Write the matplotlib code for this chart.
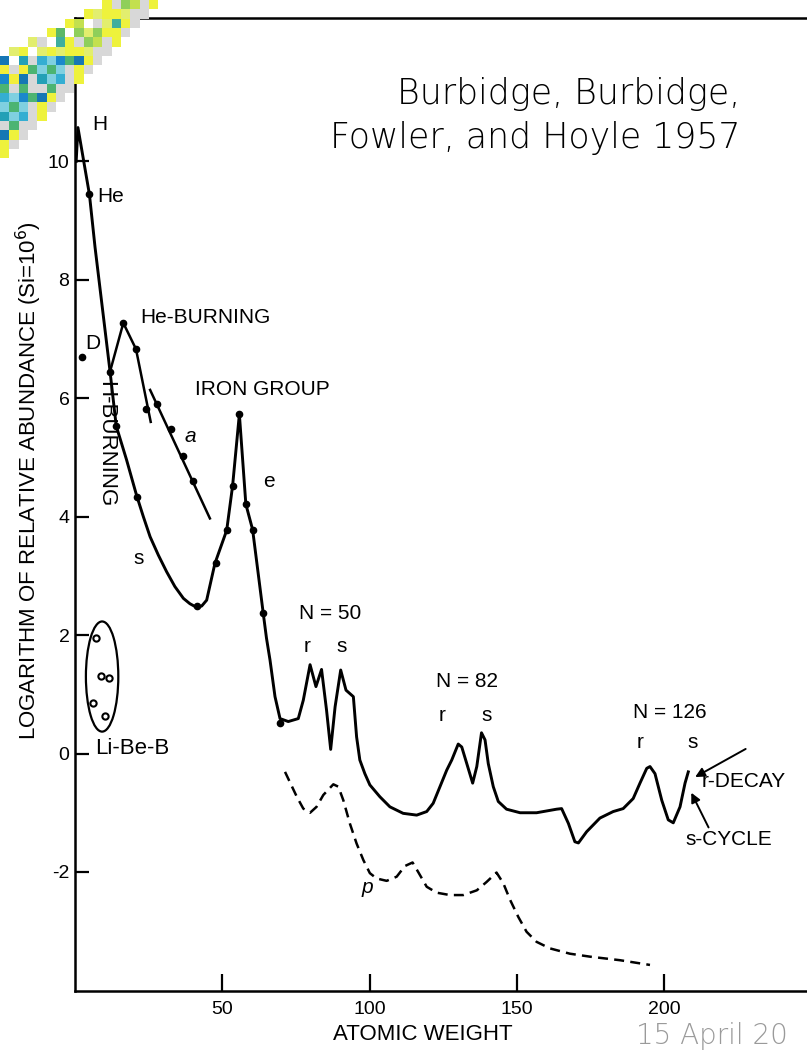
import matplotlib.pyplot as plt
from matplotlib.patches import Ellipse, Rectangle

plt.rcParams['font.family'] = ['Liberation Sans', 'DejaVu Sans']

# main solid curve: atomic weight vs log relative abundance (Si = 1e6)
main_a = [0.4, 1.0, 4.9, 6.8, 11.9, 14.0, 17.5, 20.9, 23.2, 25.5, 28.3, 31.1, 33.9,
          36.8, 39.0, 41.2, 43.0, 44.7, 47.5, 51.5, 53.5, 55.8, 58.0, 60.3, 63.9,
          65.0, 66.2, 67.9, 69.6, 72.4, 75.8, 77.5, 79.8, 81.8, 83.7, 85.4, 86.8,
          88.3, 90.2, 92.0, 94.5, 95.6, 96.7, 98.4, 100.1, 103.5, 106.9, 111.4,
          116.0, 119.4, 121.6, 123.9, 126.2, 127.9, 130.1, 131.3, 133.0, 135.0,
          136.4, 138.0, 139.2, 140.3, 142.0, 143.7, 146.5, 151.1, 156.7, 163.5,
          165.2, 167.5, 169.7, 170.9, 173.7, 178.2, 182.7, 186.1, 189.5, 191.8,
          194.1, 195.2, 196.9, 199.2, 201.4, 203.1, 205.4, 207.1, 208.2]
main_l = [10.0, 10.57, 9.44, 8.55, 6.45, 5.53, 4.96, 4.36, 4.0, 3.66, 3.35, 3.07, 2.82,
          2.62, 2.53, 2.47, 2.49, 2.59, 3.21, 3.77, 4.52, 5.73, 4.21, 3.78, 2.37,
          1.95, 1.58, 0.96, 0.59, 0.54, 0.59, 0.9, 1.5, 1.13, 1.42, 0.73, 0.07,
          0.79, 1.41, 1.07, 0.96, 0.28, -0.11, -0.34, -0.53, -0.73, -0.9, -1.01,
          -1.04, -0.98, -0.84, -0.56, -0.28, -0.11, 0.16, 0.11, -0.17, -0.5,
          -0.22, 0.35, 0.23, -0.17, -0.56, -0.81, -0.94, -1.0, -1.0, -0.94,
          -0.93, -1.18, -1.49, -1.51, -1.32, -1.09, -0.98, -0.93, -0.76, -0.5,
          -0.25, -0.22, -0.34, -0.79, -1.12, -1.17, -0.9, -0.5, -0.31]

# measured points on the H-burning / s / e curve
dot_a = [4.9, 11.9, 14.0, 20.9, 41.3, 47.7, 51.5, 53.6, 55.8, 58.1, 60.4, 63.9, 69.6]
dot_l = [9.44, 6.45, 5.53, 4.34, 2.49, 3.21, 3.77, 4.52, 5.73, 4.21, 3.78, 2.37, 0.51]

# He-burning branch
he_a = [11.9, 16.4, 20.7, 25.7]
he_l = [6.45, 7.27, 6.83, 5.6]
he_dot_a = [16.4, 20.7, 24.1]
he_dot_l = [7.27, 6.83, 5.81]

# alpha-process line
alpha_a = [25.5, 45.8]
alpha_l = [6.14, 3.97]
alpha_dot_a = [27.9, 32.5, 36.6, 40.2]
alpha_dot_l = [5.9, 5.48, 5.03, 4.61]

# deuterium
d_a, d_l = [2.3], [6.7]

# Li-Be-B points
libeb_a = [7.1, 8.8, 11.6, 6.2, 10.2]
libeb_l = [1.95, 1.31, 1.27, 0.86, 0.63]

# p-process (dashed)
p_a = [71.3, 75.3, 77.5, 79.8, 82.0, 84.3, 87.7, 89.4, 91.1, 93.3, 95.6, 97.9, 100.1,
       102.4, 105.8, 109.2, 112.0, 114.6, 116.5, 119.4, 122.8, 127.3, 131.8, 136.4,
       139.7, 143.1, 145.4, 147.7, 150.5, 153.3, 156.7, 161.2, 168.0, 174.8, 185.0,
       195.2]
p_l = [-0.31, -0.73, -0.93, -1.0, -0.9, -0.7, -0.52, -0.56, -0.79, -1.18, -1.52, -1.8,
       -2.02, -2.11, -2.15, -2.08, -1.9, -1.84, -2.0, -2.25, -2.35, -2.39, -2.39,
       -2.31, -2.17, -2.01, -2.19, -2.47, -2.76, -3.01, -3.18, -3.29, -3.38, -3.43,
       -3.49, -3.57]

x_ticks = [50, 100, 150, 200]
x_tick_labels = ['50', '100', '150', '200']
y_ticks = [-2, 0, 2, 4, 6, 8, 10]
y_tick_labels = ['-2', '0', '2', '4', '6', '8', '10']

fig = plt.figure(figsize=(8.07, 10.55), dpi=100)
ax = fig.add_axes([75 / 807, 64 / 1055, 737 / 807, 973 / 1055])
ax.set_xlim(0, 250.2)
ax.set_ylim(-4.01, 12.42)

ax.plot(main_a, main_l, color='black', lw=2.1, solid_joinstyle='round')
ax.plot(dot_a, dot_l, 'o', color='black', ms=4.5)
ax.plot(he_a, he_l, color='black', lw=1.8)
ax.plot(he_dot_a, he_dot_l, 'o', color='black', ms=4.5)
ax.plot(alpha_a, alpha_l, color='black', lw=1.8)
ax.plot(alpha_dot_a, alpha_dot_l, 'o', color='black', ms=4.5)
ax.plot(d_a, d_l, 'o', color='black', ms=4.5)
ax.plot(libeb_a, libeb_l, 'o', ms=4.5, mfc='white', mec='black', mew=1.5)
ax.add_patch(Ellipse((9.2, 1.3), 11, 1.86, fill=False, lw=1.6, ec='black'))
ax.plot(p_a, p_l, color='black', lw=1.8, linestyle=(0, (4, 2.5)))

for s in ['left', 'top', 'bottom', 'right']:
    ax.spines[s].set_linewidth(1.8)
ax.set_xticks(x_ticks)
ax.set_xticklabels(x_tick_labels)
ax.set_yticks(y_ticks)
ax.set_yticklabels(y_tick_labels)
ax.tick_params(axis='x', direction='in', length=12, width=1.6, pad=7, labelsize=14)
ax.tick_params(axis='y', direction='in', length=10, width=1.6, pad=4, labelsize=14)

lab = dict(fontsize=15, color='black')
ax.text(5.8, 10.63, 'H', ha='left', va='center', **lab)
ax.text(7.5, 9.4, 'He', ha='left', va='center', **lab)
ax.text(3.4, 6.93, 'D', ha='left', va='center', **lab)
ax.text(22.1, 7.36, 'He-BURNING', ha='left', va='center', **lab)
ax.text(40.7, 6.14, 'IRON GROUP', ha='left', va='center', **lab)
ax.text(10.4, 5.23, 'H-BURNING', ha='center', va='center', rotation=270, fontsize=16)
ax.text(39.0, 5.35, 'a', ha='center', va='center', style='italic', **lab)
ax.text(65.9, 4.59, 'e', ha='center', va='center', **lab)
ax.text(21.7, 3.3, 's', ha='center', va='center', **lab)
ax.text(86.6, 2.37, 'N = 50', ha='center', va='center', **lab)
ax.text(78.8, 1.8, 'r', ha='center', va='center', **lab)
ax.text(90.6, 1.8, 's', ha='center', va='center', **lab)
ax.text(133.0, 1.22, 'N = 82', ha='center', va='center', **lab)
ax.text(124.6, 0.65, 'r', ha='center', va='center', **lab)
ax.text(139.9, 0.65, 's', ha='center', va='center', **lab)
ax.text(202.0, 0.70, 'N = 126', ha='center', va='center', **lab)
ax.text(191.8, 0.18, 'r', ha='center', va='center', **lab)
ax.text(209.8, 0.18, 's', ha='center', va='center', **lab)
ax.text(212.8, -0.48, 'r-DECAY', ha='left', va='center', **lab)
ax.text(207.1, -1.46, 's-CYCLE', ha='left', va='center', **lab)
ax.text(99.1, -2.27, 'p', ha='center', va='center', style='italic', **lab)
ax.text(6.8, 0.09, 'Li-Be-B', ha='left', va='center', fontsize=16)

arrow = dict(arrowstyle='-|>', lw=1.4, color='black', mutation_scale=14)
ax.annotate('', xy=(209.7, -0.42), xytext=(228.5, 0.10), arrowprops=arrow)
ax.annotate('', xy=(208.8, -0.62), xytext=(215.5, -1.29), arrowprops=arrow)

fig.text(29 / 807, 1 - 481 / 1055, 'LOGARITHM OF RELATIVE ABUNDANCE (Si=10$^6$)',
         rotation=90, ha='center', va='center', fontsize=16)
fig.text(423 / 807, 1 - 1035 / 1055, 'ATOMIC WEIGHT', ha='center', va='center', fontsize=16)

title_font = dict(ha='right', va='baseline', fontsize=25, family='DejaVu Sans',
                  weight='light', color='black')
fig.text(740 / 807, 1 - 104 / 1055, 'Burbidge, Burbidge,', **title_font)
fig.text(740 / 807, 1 - 148 / 1055, 'Fowler, and Hoyle 1957', **title_font)
fig.text(636 / 807, 1 - 1044 / 1055, '15 April 20', ha='left', va='baseline',
         fontsize=20, family='DejaVu Sans', weight='light', color='#9a9a9a')

# pixel-mosaic decoration in the top-left corner
deco = fig.add_axes([0, 0, 1, 1])
deco.set_xlim(0, 807)
deco.set_ylim(1055, 0)
deco.axis('off')
upper_cols = ['#d8d8d8', '#eef23c', '#c3e04e', '#5cb868', '#d8d8d8', '#e2ee6e', '#3fae9e', '#8fcf5a']
lower_cols = ['#1a88cc', '#d8d8d8', '#34aed2', '#f2ee3a', '#23a0b6', '#4cb472', '#1677b4', '#7fd0e0']
cell = 9.3
for j in range(20):
    for i in range(20):
        cx = i * cell + cell / 2
        cy = j * cell + cell / 2
        if cx + cy >= 160 or cy <= 56 - 0.5 * cx:
            continue
        k = (3 * i + 5 * j + (i * j) % 4) % 8
        if cx + cy > 146:
            col = '#d8d8d8' if k % 3 else '#eef23c'
        elif cy < 58:
            col = upper_cols[k]
        else:
            col = lower_cols[k]
        if (i + 2 * j) % 13 == 0 and cx + cy < 120:
            col = 'white'
        deco.add_patch(Rectangle((i * cell, j * cell), cell, cell, color=col, lw=0))

fig.savefig('out.png', dpi=100)
